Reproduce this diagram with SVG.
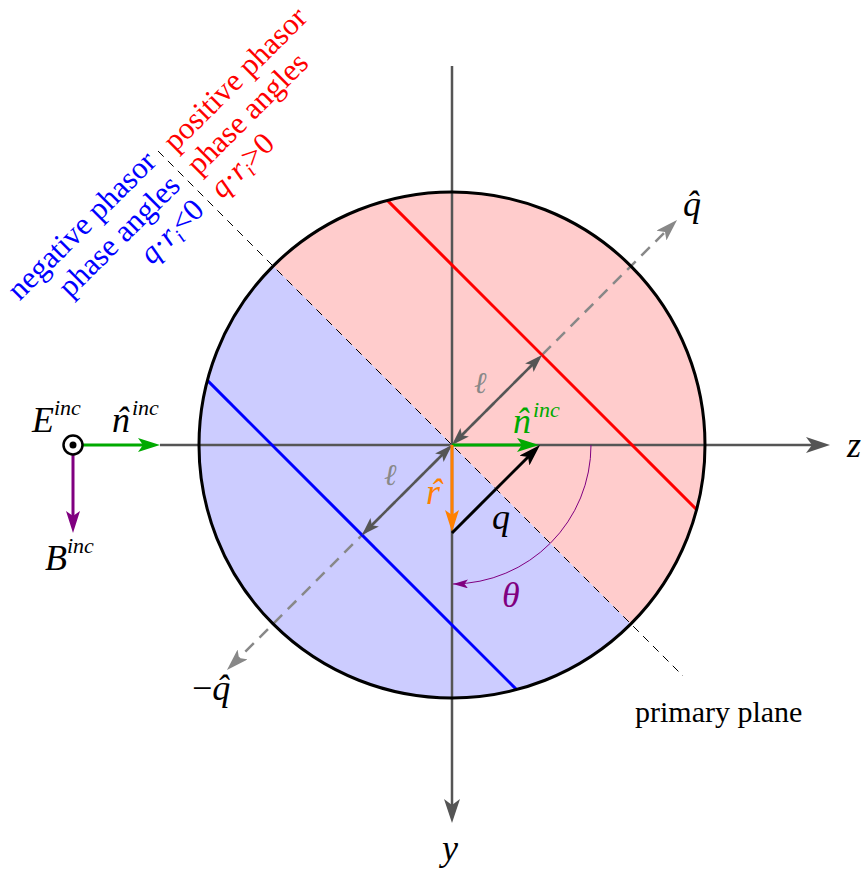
<svg xmlns="http://www.w3.org/2000/svg" width="864" height="871" viewBox="0 0 864 871">
<style>
text{font-family:"Liberation Serif","Times New Roman",serif;}
.m{font-style:italic;font-size:36px;}
.sup{font-style:italic;font-size:22px;}
.lab{font-size:30px;}
.axis{stroke:#555555;stroke-width:2.5;fill:none;}
.qax{stroke:#888888;stroke-width:2.5;fill:none;stroke-dasharray:12 8;}
.plane{stroke:#000000;stroke-width:1;fill:none;stroke-dasharray:8 6;}
</style>
<defs>
<marker id="ahAxis" markerUnits="userSpaceOnUse" viewBox="0 0 24 16" markerWidth="24" markerHeight="16" refX="18" refY="8" orient="auto"><path d="M0,0 L24,8 L0,16 L6,8 Z" fill="#555555"/></marker>
<marker id="ahQ" markerUnits="userSpaceOnUse" viewBox="0 0 22 14" markerWidth="22" markerHeight="14" refX="16" refY="7" orient="auto-start-reverse"><path d="M0,0 L22,7 L0,14 L5,7 Z" fill="#888888"/></marker>
<marker id="ahL" markerUnits="userSpaceOnUse" viewBox="0 0 18 12" markerWidth="18" markerHeight="12" refX="13" refY="6" orient="auto-start-reverse"><path d="M0,0 L18,6 L0,12 L4,6 Z" fill="#555555"/></marker>
<marker id="ahG" markerUnits="userSpaceOnUse" viewBox="0 0 22 14" markerWidth="22" markerHeight="14" refX="16" refY="7" orient="auto"><path d="M0,0 L22,7 L0,14 L5,7 Z" fill="#00aa00"/></marker>
<marker id="ahO" markerUnits="userSpaceOnUse" viewBox="0 0 22 14" markerWidth="22" markerHeight="14" refX="16" refY="7" orient="auto"><path d="M0,0 L22,7 L0,14 L5,7 Z" fill="#ff8000"/></marker>
<marker id="ahK" markerUnits="userSpaceOnUse" viewBox="0 0 22 14" markerWidth="22" markerHeight="14" refX="16" refY="7" orient="auto"><path d="M0,0 L22,7 L0,14 L5,7 Z" fill="#000000"/></marker>
<marker id="ahP" markerUnits="userSpaceOnUse" viewBox="0 0 22 14" markerWidth="22" markerHeight="14" refX="16" refY="7" orient="auto"><path d="M0,0 L22,7 L0,14 L5,7 Z" fill="#800080"/></marker>
<marker id="ahPs" markerUnits="userSpaceOnUse" viewBox="0 0 15 9" markerWidth="15" markerHeight="9" refX="15" refY="4.5" orient="auto"><path d="M0,0 L15,4.5 L0,9 L3.5,4.5 Z" fill="#800080"/></marker>
</defs>
<rect width="864" height="871" fill="#ffffff"/>

<g id="regions">
<path id="positive-half" d="M273.1,266.1 A253,253 0 0 1 630.9,623.9 Z" fill="#ffcccc"/>
<path id="negative-half" d="M630.9,623.9 A253,253 0 0 1 273.1,266.1 Z" fill="#ccccff"/>
</g>

<g id="connectors">
<line class="axis" x1="160" y1="445" x2="824" y2="445" marker-end="url(#ahAxis)"/>
<line class="axis" x1="452" y1="66" x2="452" y2="817" marker-end="url(#ahAxis)"/>
<line class="plane" x1="158" y1="151" x2="683" y2="676"/>
<line class="qax" x1="231.2" y1="665.8" x2="672.8" y2="224.2" marker-start="url(#ahQ)" marker-end="url(#ahQ)"/>
<line x1="387.4" y1="200.4" x2="696.6" y2="509.6" stroke="#ff0000" stroke-width="3"/>
<line x1="207.4" y1="380.4" x2="516.6" y2="689.6" stroke="#0000ff" stroke-width="3"/>
<circle cx="452" cy="445" r="253" fill="none" stroke="#000000" stroke-width="3"/>
<line x1="455.5" y1="441.5" x2="538.5" y2="358.5" stroke="#555555" stroke-width="2.5" marker-start="url(#ahL)" marker-end="url(#ahL)"/>
<line x1="448.5" y1="448.5" x2="365.5" y2="531.5" stroke="#555555" stroke-width="2.5" marker-start="url(#ahL)" marker-end="url(#ahL)"/>
<line x1="452" y1="445" x2="533" y2="445" stroke="#00aa00" stroke-width="3" marker-end="url(#ahG)"/>
<line x1="452" y1="445" x2="452" y2="526" stroke="#ff8000" stroke-width="3" marker-end="url(#ahO)"/>
<line x1="452" y1="533" x2="535.8" y2="449.2" stroke="#000000" stroke-width="3" marker-end="url(#ahK)"/>
<path d="M591,445 A139,139 0 0 1 453,584" fill="none" stroke="#800080" stroke-width="1" marker-end="url(#ahPs)"/>
<line x1="83" y1="445" x2="154" y2="445" stroke="#00aa00" stroke-width="3" marker-end="url(#ahG)"/>
<line x1="73" y1="455" x2="73" y2="527" stroke="#800080" stroke-width="3" marker-end="url(#ahP)"/>
</g>

<g id="E-field">
<circle cx="73" cy="445" r="9.5" fill="#ffffff" stroke="#000000" stroke-width="2.5"/>
<circle cx="73" cy="445" r="3.5" fill="#000000"/>
<text x="32" y="432"><tspan class="m">E</tspan><tspan class="sup" dy="-17">inc</tspan></text>
</g>
<g id="n-inc-left">
<text x="112" y="432" class="m">n<tspan dx="-14">ˆ</tspan><tspan class="sup" dx="4" dy="-17">inc</tspan></text>
</g>
<g id="B-field">
<text x="45" y="570"><tspan class="m">B</tspan><tspan class="sup" dy="-17">inc</tspan></text>
</g>

<g id="axis-labels">
<text x="847" y="457" class="m">z</text>
<text x="442" y="860" class="m">y</text>
<text x="683" y="216" class="m">q<tspan dx="-15">ˆ</tspan></text>
<text x="192" y="700" class="m"><tspan font-style="normal">−</tspan>q<tspan dx="-14">ˆ</tspan></text>
<text x="635" y="722" class="lab">primary plane</text>
</g>

<g id="vectors-labels">
<text x="474" y="393" font-size="30" font-style="italic" fill="#888888">ℓ</text>
<text x="384" y="485" font-size="30" font-style="italic" fill="#888888">ℓ</text>
<text x="513" y="433" class="m" fill="#00aa00">n<tspan dx="-15">ˆ</tspan><tspan class="sup" dx="5" dy="-16">inc</tspan></text>
<text x="426" y="504" class="m" fill="#ff8000">r<tspan dx="-10">ˆ</tspan></text>
<text x="492" y="529" class="m">q</text>
<text x="502" y="607" class="m" font-size="32" fill="#800080">θ</text>
</g>

<g id="negative-label" transform="rotate(-45)" fill="#0000ff" font-size="31" text-anchor="end">
<text x="-4" y="227">negative phasor</text>
<text x="-4" y="261">phase angles</text>
<text x="-4" y="295"><tspan font-style="italic">q</tspan>·<tspan font-style="italic">r</tspan><tspan font-style="italic" font-size="20" dy="6">i</tspan><tspan dy="-6">&lt;0</tspan></text>
</g>
<g id="positive-label" transform="rotate(-45)" fill="#ff0000" font-size="31" text-anchor="start">
<text x="16" y="232">positive phasor</text>
<text x="16" y="265">phase angles</text>
<text x="16" y="298"><tspan font-style="italic">q</tspan>·<tspan font-style="italic">r</tspan><tspan font-style="italic" font-size="20" dy="6">i</tspan><tspan dy="-6">&gt;0</tspan></text>
</g>
</svg>
